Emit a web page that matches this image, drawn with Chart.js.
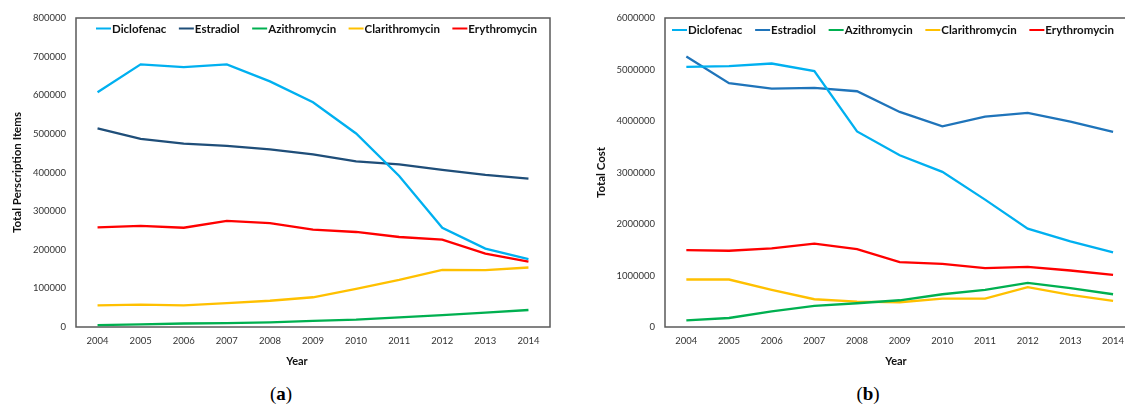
<!DOCTYPE html>
<html>
<head>
<meta charset="utf-8">
<script src="https://cdn.jsdelivr.net/npm/chart.js@4.4.1/dist/chart.umd.min.js"></script>
<style>
  html, body { margin: 0; padding: 0; background: #fff; }
  #wrap { position: relative; width: 1125px; height: 408px; overflow: hidden; }
  .panel { position: absolute; top: 0; height: 372px; }
  #panelA { left: 0; width: 560px; }
  #panelB { left: 560px; width: 576px; }
  .cap { position: absolute; top: 383px; font-family: "Liberation Serif", serif; font-size: 19px;
         line-height: 22px; color: #000; transform: translateX(-50%); }
</style>
</head>
<body>
<div id="wrap">
  <div class="panel" id="panelA"><canvas id="chartA"></canvas></div>
  <div class="panel" id="panelB"><canvas id="chartB"></canvas></div>
  <div class="cap" style="left:281px">(<b>a</b>)</div>
  <div class="cap" style="left:868px">(<b>b</b>)</div>
</div>
<script>
// Years on the horizontal axis
const years = ['2004', '2005', '2006', '2007', '2008', '2009', '2010', '2011', '2012', '2013', '2014'];
const drugNames = ['Diclofenac', 'Estradiol', 'Azithromycin', 'Clarithromycin', 'Erythromycin'];

// Total prescription items per year
const itemsDiclofenac     = [608000, 680000, 673000, 680000, 636000, 582000, 501000, 391000, 257000, 203000, 176000];
const itemsEstradiol      = [514000, 487000, 475000, 469000, 460000, 447000, 429000, 421000, 407000, 394000, 384000];
const itemsAzithromycin   = [5000, 7000, 9000, 10000, 12000, 16000, 19000, 25000, 31000, 37000, 44000];
const itemsClarithromycin = [56000, 58000, 56000, 62000, 68000, 77000, 99000, 122000, 148000, 147000, 154000];
const itemsErythromycin   = [258000, 262000, 257000, 275000, 269000, 252000, 246000, 233000, 226000, 190000, 169000];

// Total cost per year
const costDiclofenac     = [5052000, 5065000, 5116000, 4968000, 3798000, 3335000, 3013000, 2474000, 1909000, 1662000, 1448000];
const costEstradiol      = [5252000, 4735000, 4630000, 4643000, 4578000, 4176000, 3896000, 4085000, 4157000, 3990000, 3788000];
const costAzithromycin   = [130000, 175000, 305000, 409000, 461000, 519000, 636000, 721000, 857000, 753000, 636000];
const costClarithromycin = [922000, 922000, 721000, 539000, 494000, 481000, 552000, 552000, 773000, 623000, 507000];
const costErythromycin   = [1494000, 1481000, 1526000, 1617000, 1513000, 1260000, 1227000, 1143000, 1169000, 1097000, 1013000];

// Axis ranges
const itemsAxis = { max: 800000, step: 100000 };
const costAxis  = { max: 6000000, step: 1000000 };

const FONT = 'Lato, "Open Sans", sans-serif';

// Outline around the plotting area
const plotFrame = {
  id: 'plotFrame',
  beforeDatasetsDraw(chart) {
    const { left, top, right, bottom } = chart.chartArea;
    const ctx = chart.ctx;
    ctx.save();
    ctx.strokeStyle = '#5a5a5a';
    ctx.lineWidth = 1.5;
    ctx.strokeRect(left, top, right - left, bottom - top);
    ctx.restore();
  }
};

// Single-row legend placed inside the plotting area
const insideLegend = {
  id: 'insideLegend',
  afterDraw(chart, args, opts) {
    const ctx = chart.ctx;
    const ds = chart.data.datasets;
    ctx.save();
    ctx.font = opts.font;
    const sample = 15, textGap = 1;
    const widths = ds.map(d => sample + textGap + ctx.measureText(d.label).width);
    const total = widths.reduce((a, b) => a + b, 0);
    const gap = (opts.x1 - opts.x0 - total) / (ds.length - 1);
    let x = opts.x0;
    ds.forEach((d, i) => {
      ctx.strokeStyle = d.borderColor;
      ctx.lineWidth = 2;
      ctx.beginPath();
      ctx.moveTo(x, opts.y);
      ctx.lineTo(x + sample, opts.y);
      ctx.stroke();
      ctx.fillStyle = '#111';
      ctx.textBaseline = 'middle';
      ctx.textAlign = 'left';
      ctx.fillText(d.label, x + sample + textGap, opts.y + 0.5);
      x += widths[i] + gap;
    });
    ctx.restore();
  }
};

// Horizontal axis title, centred at a given x below the tick labels
const xAxisTitle = {
  id: 'xAxisTitle',
  afterDraw(chart, args, opts) {
    const ctx = chart.ctx;
    ctx.save();
    ctx.font = opts.font;
    ctx.fillStyle = '#111';
    ctx.textAlign = 'center';
    ctx.textBaseline = 'middle';
    ctx.fillText(opts.text, opts.x, opts.y);
    ctx.restore();
  }
};

function makeDatasets(values, colors) {
  return drugNames.map((name, i) => ({
    label: name,
    data: values[i],
    borderColor: colors[i],
    backgroundColor: colors[i],
    borderWidth: 2.3,
    pointRadius: 0,
    tension: 0,
    fill: false
  }));
}

function makeChart(id, datasets, axis, yTitle, yWidth, yTitlePad, legendPos, titleX) {
  return new Chart(document.getElementById(id), {
    type: 'line',
    data: { labels: years, datasets },
    plugins: [plotFrame, insideLegend, xAxisTitle],
    options: {
      responsive: true,
      maintainAspectRatio: false,
      animation: false,
      layout: { padding: { top: 18, right: legendPos.padRight, bottom: 0, left: 0 } },
      plugins: {
        legend: { display: false },
        tooltip: { enabled: false },
        insideLegend: legendPos,
        xAxisTitle: { text: 'Year', x: titleX, y: 361, font: 'bold 11px ' + FONT }
      },
      scales: {
        x: {
          offset: true,
          grid: { display: false, drawTicks: false },
          border: { display: false },
          ticks: { padding: 8, maxRotation: 0, autoSkip: false, color: '#333',
                   font: { family: FONT, size: 9.5 } },
          afterFit(s) { s.height = 45; }
        },
        y: {
          min: 0,
          max: axis.max,
          grid: { display: false, drawTicks: false },
          border: { display: false },
          ticks: { stepSize: axis.step, padding: 10, color: '#333',
                   font: { family: FONT, size: 9.5 }, callback: v => String(v) },
          title: { display: true, text: yTitle, color: '#111',
                   font: { family: FONT, size: 11.5, weight: 'bold' }, padding: { top: yTitlePad, bottom: 0 } },
          afterFit(s) { s.width = yWidth; }
        }
      }
    }
  });
}

makeChart('chartA',
  makeDatasets([itemsDiclofenac, itemsEstradiol, itemsAzithromycin, itemsClarithromycin, itemsErythromycin],
               ['#00b0f0', '#1f4e79', '#00b050', '#ffc000', '#ff0000']),
  itemsAxis, 'Total Perscription Items', 76, 10,
  { x0: 96, x1: 537, y: 28.5, font: 'bold 11.5px ' + FONT, padRight: 10 }, 297);

makeChart('chartB',
  makeDatasets([costDiclofenac, costEstradiol, costAzithromycin, costClarithromycin, costErythromycin],
               ['#00b0f0', '#1f74ba', '#00b050', '#ffc000', '#ff0000']),
  costAxis, 'Total Cost', 105, 34.5,
  { x0: 112, x1: 554, y: 30, font: 'bold 11.5px ' + FONT, padRight: 1.6 }, 336);
</script>
</body>
</html>
